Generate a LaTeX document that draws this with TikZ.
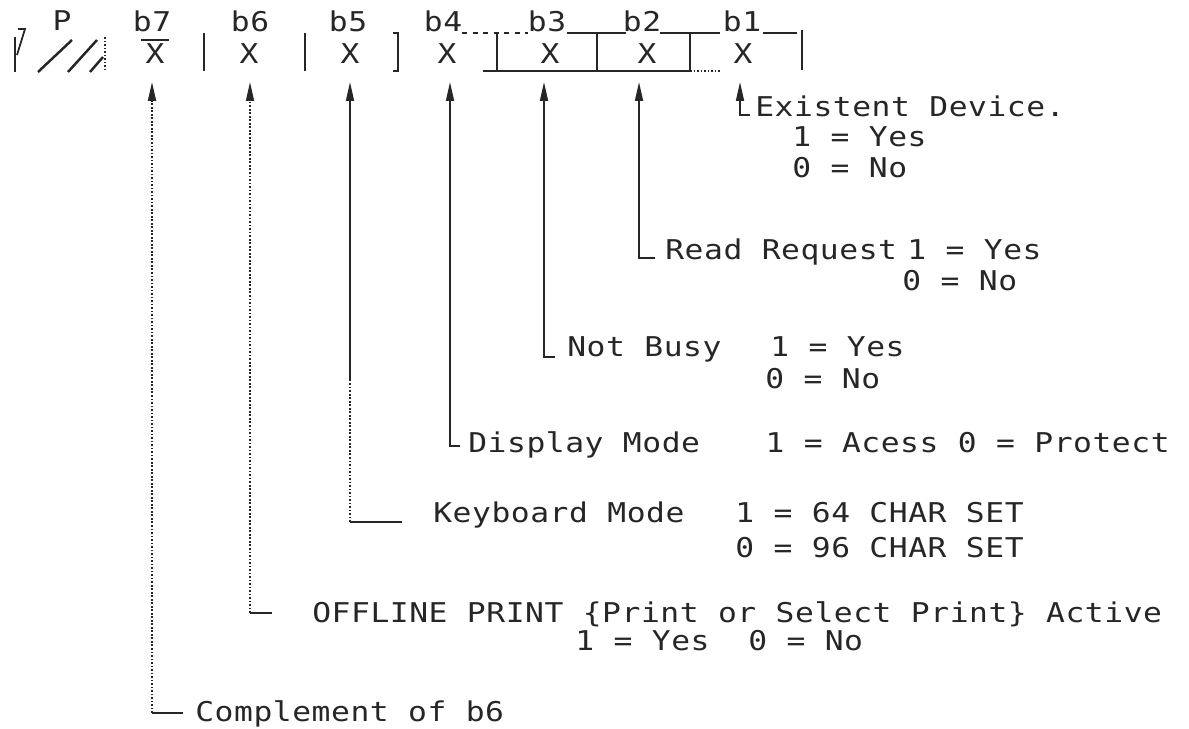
\documentclass[tikz,border=0pt]{standalone}
\usepackage{fontspec}
\newfontfamily\plotfont{DejaVu Sans Mono}[FakeStretch=1.15,LetterSpace=2]
\usetikzlibrary{arrows.meta,positioning}

\begin{document}
\begin{tikzpicture}[x=0.02cm,y=-0.02cm,
    txt/.style={font=\plotfont\fontsize{15.5}{18}\selectfont, text=black!85, inner sep=0pt, anchor=base west},
    bitx/.style={txt, anchor=center},
    frame/.style={line width=1pt, black!85},
    conn/.style={frame, -{Triangle[length=0.38cm,width=0.16cm]}},
    dotline/.style={frame, densely dotted},
    tipdot/.style={dotline, -{Triangle[length=0.38cm,width=0.16cm]}}]
    \useasboundingbox (0,0) rectangle (1189,729);

    % register row
    \draw[frame] (15,37) -- (15,72);
    \draw[frame] (18,29) -- (25,29) -- (17,55);
    \draw[frame, line width=1.4pt] (38,72) -- (72,40);
    \draw[frame, line width=1.4pt] (68,72) -- (97,40);
    \draw[frame, line width=1.4pt] (90,72) -- (103,57);
    \draw[dotline] (105,37) -- (105,70);

    \foreach \n/\x in {P/62, b7/152, b6/250, b5/348, b4/443, b3/547, b2/642, b1/742}
        \node[bitx] (lbl-\n) at (\x,21) {\n};
    \foreach \n/\x in {7/155, 6/249, 5/350, 4/447, 3/550, 2/647, 1/743}
        \node[bitx] (x\n) at (\x,54) {X};
    \draw[frame] ([shift={(-4,-4)}]x7.north west) -- ([shift={(4,-4)}]x7.north east);

    \foreach \x in {204, 305}
        \draw[frame] (\x,33) -- (\x,71);
    \draw[frame] (393,33) -- (398,33) -- (398,71) -- (393,71);
    \draw[frame, dashed] (462,33) -- (528,33);
    \draw[frame] (567,33) -- (626,33) (660,33) -- (720,33) (763,33) -- (797,33);
    \draw[frame] (483,71) -- (690,71);
    \draw[dotline] (690,71) -- (720,71);
    \foreach \x in {497, 597, 690}
        \draw[frame] (\x,33) -- (\x,71);
    \draw[frame] (802,30) -- (802,70);

    % arrow tips and tick ends
    \foreach \n/\x in {7/152, 6/250, 5/350, 4/450, 3/544, 2/639, 1/740}
        \coordinate (t\n) at (\x,82);
    \coordinate (k1) at (750,115);
    \coordinate (k2) at (655,258);
    \coordinate (k3) at (555,357);
    \coordinate (k4) at (460,446);
    \coordinate (k5) at (402,522);
    \coordinate (k6) at (272,613);
    \coordinate (k7) at (183,713);
    \coordinate (m5) at (350,380);

    % descriptions
    \node[txt] (ex) at (755,117) {Existent Device.};
    \node[txt] (ex1) at (792,147) {1 = Yes};
    \node[txt] (ex0) at (792,178) {0 = No};

    \node[txt] (rq) at (665,260) {Read Request};
    \node[txt] (rq1) at (907,260) {1 = Yes};
    \node[txt] (rq0) at (902,291) {0 = No};

    \node[txt] (nb) at (567,357) {Not Busy};
    \node[txt] (nb1) at (770,357) {1 = Yes};
    \node[txt] (nb0) at (765,388) {0 = No};

    \node[txt] (dm) at (468,452) {Display Mode};
    \node[txt, anchor=base east] (dm1) at (1170,452) {1 = Acess 0 = Protect};

    \node[txt] (kb) at (433,522) {Keyboard Mode};
    \node[txt] (kb1) at (735,522) {1 = 64 CHAR SET};
    \node[txt] (kb0) at (735,557) {0 = 96 CHAR SET};

    \node[txt] (op) at (312,622) {OFFLINE PRINT \{Print or Select Print\} Active};
    \node[txt] (op1) at (575,650) {1 = Yes\ \ 0 = No};

    \node[txt] (cp) at (195,721) {Complement of b6};

    % connectors
    \draw[conn] (k1) -| (t1);
    \draw[conn] (k2) -| (t2);
    \draw[conn] (k3) -| (t3);
    \draw[conn] (k4) -| (t4);
    \draw[frame] (k5) -- (k5 -| t5);
    \draw[dotline] (k5 -| t5) -- (m5);
    \draw[conn] (m5) -- (t5);
    \draw[frame] (k6) -- (k6 -| t6);
    \draw[tipdot] (k6 -| t6) -- (t6);
    \draw[frame] (k7) -- (k7 -| t7);
    \draw[tipdot] (k7 -| t7) -- (t7);
\end{tikzpicture}
\end{document}
